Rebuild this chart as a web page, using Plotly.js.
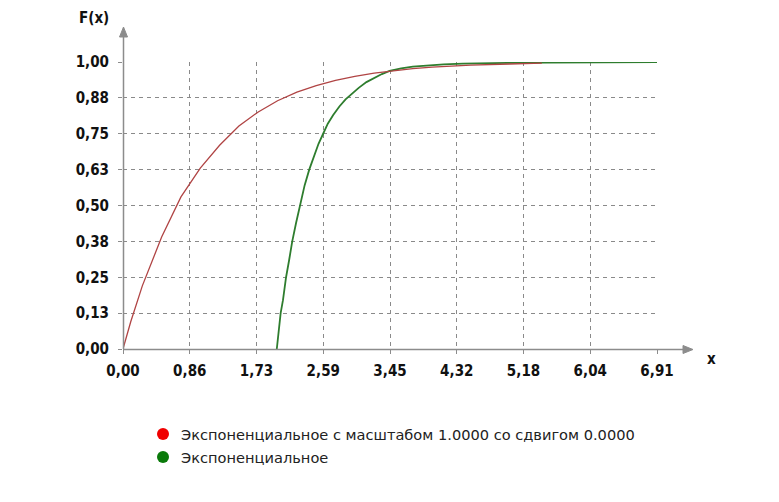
<!DOCTYPE html>
<html>
<head>
<meta charset="utf-8">
<script src="https://cdn.plot.ly/plotly-3.0.1.min.js"></script>
<style>html,body{margin:0;padding:0;background:#fff;}#chart{width:779px;height:502px;}</style>
</head>
<body>
<div id="chart"></div>
<script>
// Red: exponential with scale 1.0000, shift 0.0000
var redX = [0, 0.1, 0.25, 0.5, 0.75, 1.0, 1.25, 1.5, 1.75, 2.0, 2.25, 2.5, 2.75, 3.0, 3.25, 3.5, 3.75, 4.0, 4.5, 5.0, 5.42];
var redY = [0, 0.095, 0.22, 0.39, 0.53, 0.63, 0.71, 0.777, 0.826, 0.865, 0.895, 0.918, 0.936, 0.95, 0.961, 0.97, 0.977, 0.982, 0.989, 0.993, 0.996];

var greenX = [1.99, 2.00, 2.02, 2.04, 2.07, 2.11, 2.15, 2.19, 2.24, 2.29, 2.35, 2.41, 2.47, 2.53, 2.59, 2.65, 2.72, 2.80, 2.88, 2.96, 3.05, 3.15, 3.25, 3.35, 3.45, 3.60, 3.75, 3.95, 4.15, 4.40, 4.70, 5.00, 5.50, 6.00, 6.91];
var greenY = [0.000, 0.03, 0.07, 0.125, 0.17, 0.25, 0.31, 0.375, 0.44, 0.50, 0.57, 0.625, 0.67, 0.715, 0.75, 0.785, 0.815, 0.845, 0.87, 0.89, 0.91, 0.93, 0.945, 0.958, 0.969, 0.978, 0.984, 0.989, 0.992, 0.994, 0.996, 0.997, 0.998, 0.999, 1.000];

var xTickVals = [0, 0.86375, 1.7275, 2.59125, 3.455, 4.31875, 5.1825, 6.04625, 6.91];
var xTickText = ["0,00", "0,86", "1,73", "2,59", "3,45", "4,32", "5,18", "6,04", "6,91"];
var yTickVals = [0, 0.125, 0.25, 0.375, 0.5, 0.625, 0.75, 0.875, 1.0];
var yTickText = ["0,00", "0,13", "0,25", "0,38", "0,50", "0,63", "0,75", "0,88", "1,00"];

var legendNames = ["Экспоненциальное с масштабом 1.0000 со сдвигом 0.0000", "Экспоненциальное"];
var legendColors = ["#f00000", "#0a7a0a"];

var W = 779, H = 502, L = 123, R = 122, T = 62, B = 153;
var PW = W - L - R, PH = H - T - B;
function px(x) { return (x - L) / PW; }
function py(y) { return (H - B - y) / PH; }

var axisColor = "#8c8c8c";
var tickFont = {family: "DejaVu Sans Condensed, DejaVu Sans, sans-serif", size: 15, color: "#111", weight: "bold"};

var traces = [
  {x: greenX, y: greenY, type: "scatter", mode: "lines", line: {color: "#2e7d2e", width: 1.8}, showlegend: false, hoverinfo: "skip"},
  {x: redX, y: redY, type: "scatter", mode: "lines", line: {color: "#b04444", width: 1.3}, showlegend: false, hoverinfo: "skip"}
];

var shapes = [
  {type: "line", xref: "paper", yref: "paper", x0: px(123.5), x1: px(123.5), y0: py(349), y1: py(35), line: {color: axisColor, width: 1.5}},
  {type: "path", xref: "paper", yref: "paper", path: "M" + px(123.5) + "," + py(27) + " L" + px(119.5) + "," + py(37) + " L" + px(127.5) + "," + py(37) + " Z", fillcolor: axisColor, line: {color: axisColor, width: 1}},
  {type: "line", xref: "paper", yref: "paper", x0: px(123), x1: px(684), y0: py(349.5), y1: py(349.5), line: {color: axisColor, width: 1.5}},
  {type: "path", xref: "paper", yref: "paper", path: "M" + px(693) + "," + py(349.5) + " L" + px(683) + "," + py(345.5) + " L" + px(683) + "," + py(353.5) + " Z", fillcolor: axisColor, line: {color: axisColor, width: 1}}
];

var annotations = [
  {xref: "paper", yref: "paper", x: px(111), y: py(18), xanchor: "right", yanchor: "middle", text: "F(x)", showarrow: false, font: tickFont},
  {xref: "paper", yref: "paper", x: px(711), y: py(359), xanchor: "center", yanchor: "middle", text: "x", showarrow: false, font: tickFont}
];

var legendY = [434, 457];
for (var i = 0; i < legendNames.length; i++) {
  shapes.push({type: "circle", xref: "paper", yref: "paper", x0: px(157), x1: px(169), y0: py(legendY[i] - 6), y1: py(legendY[i] + 6), fillcolor: legendColors[i], line: {color: legendColors[i], width: 0}});
  annotations.push({xref: "paper", yref: "paper", x: px(179), y: py(legendY[i]), xanchor: "left", yanchor: "middle", text: legendNames[i], showarrow: false, font: {family: "DejaVu Sans, sans-serif", size: 14.6, color: "#222"}});
}

var layout = {
  width: W, height: H,
  margin: {l: L, r: R, t: T, b: B, pad: 0},
  paper_bgcolor: "#ffffff", plot_bgcolor: "#ffffff",
  showlegend: false,
  xaxis: {
    range: [0, 6.91], tickvals: xTickVals, ticktext: xTickText,
    showgrid: true, gridcolor: "#8a8a8a", griddash: "4px,4px", gridwidth: 1,
    zeroline: false, showline: false,
    ticks: "outside", ticklen: 4, tickcolor: axisColor, tickwidth: 1,
    ticklabelstandoff: 4,
    tickfont: tickFont, fixedrange: true
  },
  yaxis: {
    range: [0, 1], tickvals: yTickVals, ticktext: yTickText,
    showgrid: true, gridcolor: "#8a8a8a", griddash: "4px,4px", gridwidth: 1,
    zeroline: false, showline: false,
    ticks: "outside", ticklen: 4, tickcolor: axisColor, tickwidth: 1,
    ticklabelstandoff: 6,
    tickfont: tickFont, fixedrange: true
  },
  shapes: shapes,
  annotations: annotations
};

Plotly.newPlot("chart", traces, layout, {displayModeBar: false, staticPlot: true});
</script>
</body>
</html>
